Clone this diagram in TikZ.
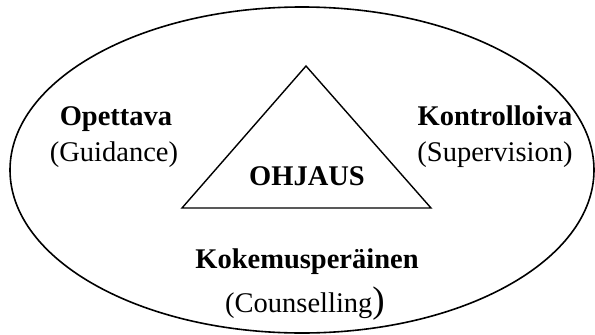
\documentclass[tikz,border=0pt]{standalone}
\usepackage{fontspec}
\setmainfont{Liberation Serif}
\usetikzlibrary{shapes.geometric}
\begin{document}
\begin{tikzpicture}[x=1pt,y=-1pt,
  lbl/.style={inner sep=0pt,anchor=base,font=\fontsize{28.5}{32}\selectfont},
  blbl/.style={lbl,font=\fontsize{28.5}{32}\selectfont\bfseries},
  outline/.style={draw=black,line width=1.6pt}]
\useasboundingbox (0,0) rectangle (595,335);
\node[outline,ellipse,minimum width=584pt,minimum height=326pt,inner sep=0pt] (oval) at (302,170) {};
\coordinate (apex) at (306,66);
\coordinate (bl) at (182,208);
\coordinate (br) at (431,208);
\draw[draw=black,line width=1.4pt,line join=miter] (apex) -- (bl) -- (br) -- cycle;
\node[blbl] (ohj) at (307,185) {OHJAUS};
\node[blbl] (ope) at (116,125) {Opettava};
\node[lbl] (gui) at (114,161) {(Guidance)};
\node[blbl] (kon) at (495,125) {Kontrolloiva};
\node[lbl] (sup) at (495,161) {(Supervision)};
\node[blbl] (kok) at (307,268) {Kokemusperäinen};
\node[lbl] (cou) at (305,312) {(Counselling{\fontsize{37}{40}\selectfont)}};
\end{tikzpicture}
\end{document}
